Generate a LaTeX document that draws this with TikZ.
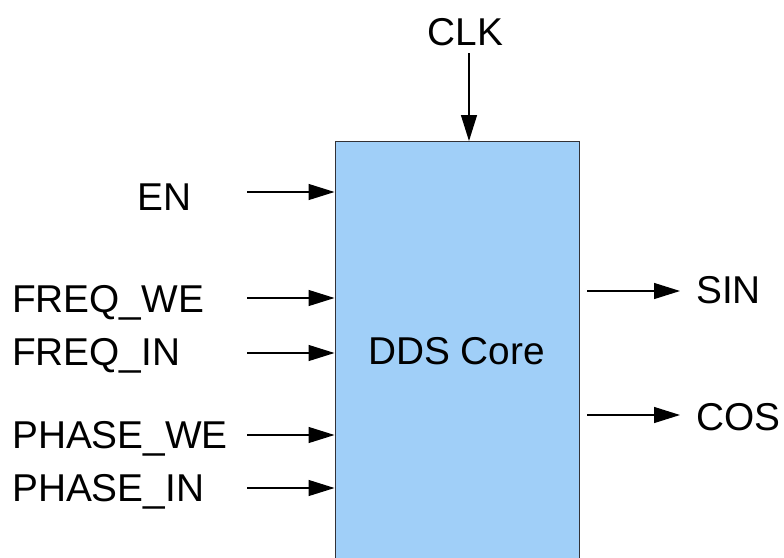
\documentclass[tikz,border=0pt]{standalone}
\usepackage{fontspec}
\setmainfont{Liberation Sans}
\usetikzlibrary{arrows.meta}
\definecolor{boxfill}{RGB}{160,207,248}
\definecolor{boxline}{RGB}{50,50,55}
\tikzset{
  sig/.style={font=\fontsize{38.8}{40}\selectfont, inner sep=0pt, text height=27pt, text depth=0pt},
  wire/.style={line width=1.3pt, -{Triangle[length=26pt,width=16pt]}},
  core/.style={draw=boxline, line width=1.4pt, fill=boxfill}
}
\begin{document}
\begin{tikzpicture}[x=1pt,y=-1pt]
\useasboundingbox (0,0) rectangle (784,557);
\node[core, minimum width=244pt, minimum height=440pt, anchor=north west] (box) at (334.5,141) {};
\node[sig, anchor=center] (core) at (456.5,350.5) {DDS Core};
% top
\node[sig, anchor=center] (clk) at (465.5,31.5) {CLK};
\coordinate (clkS) at (469,53);
\draw[wire] (clkS) -- (clkS |- box.north);
% left labels
\node[sig, anchor=west] (en) at (137,196.5) {EN};
\node[sig, anchor=west] (fwe) at (12,298.5) {FREQ\_WE};
\node[sig, anchor=west] (fin) at (12,352) {FREQ\_IN};
\node[sig, anchor=west] (pwe) at (12,434.5) {PHASE\_WE};
\node[sig, anchor=west] (pin) at (12,487.5) {PHASE\_IN};
\coordinate (enS) at (247,192);
\coordinate (fweS) at (247,298);
\coordinate (finS) at (247,353);
\coordinate (pweS) at (247,435);
\coordinate (pinS) at (247,488);
\draw[wire] (enS) -- (enS -| box.west);
\draw[wire] (fweS) -- (fweS -| box.west);
\draw[wire] (finS) -- (finS -| box.west);
\draw[wire] (pweS) -- (pweS -| box.west);
\draw[wire] (pinS) -- (pinS -| box.west);
% right
\node[sig, anchor=west] (sin) at (696,290) {SIN};
\node[sig, anchor=west] (cos) at (696,416.5) {COS};
\coordinate (sinS) at (587,291);
\coordinate (cosS) at (587,415);
\coordinate (sinE) at (680,291);
\coordinate (cosE) at (680,415);
\draw[wire] (sinS) -- (sinE);
\draw[wire] (cosS) -- (cosE);
\end{tikzpicture}
\end{document}
